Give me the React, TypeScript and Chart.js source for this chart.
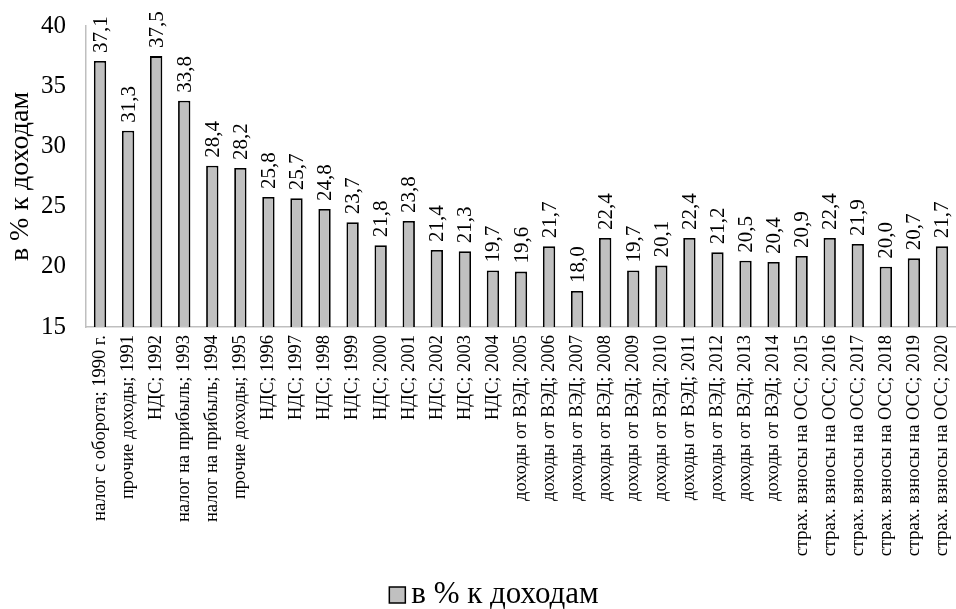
import React, { useEffect, useRef } from "react";
import { Chart, registerables } from "chart.js";

Chart.register(...registerables);

const categories: string[] = [
  "налог с оборота; 1990 г.",
  "прочие доходы; 1991",
  "НДС; 1992",
  "налог на прибыль; 1993",
  "налог на прибыль; 1994",
  "прочие доходы; 1995",
  "НДС; 1996",
  "НДС; 1997",
  "НДС; 1998",
  "НДС; 1999",
  "НДС; 2000",
  "НДС; 2001",
  "НДС; 2002",
  "НДС; 2003",
  "НДС; 2004",
  "доходы от ВЭД; 2005",
  "доходы от ВЭД; 2006",
  "доходы от ВЭД; 2007",
  "доходы от ВЭД; 2008",
  "доходы от ВЭД; 2009",
  "доходы от ВЭД; 2010",
  "доходы от ВЭД; 2011",
  "доходы от ВЭД; 2012",
  "доходы от ВЭД; 2013",
  "доходы от ВЭД; 2014",
  "страх. взносы на ОСС; 2015",
  "страх. взносы на ОСС; 2016",
  "страх. взносы на ОСС; 2017",
  "страх. взносы на ОСС; 2018",
  "страх. взносы на ОСС; 2019",
  "страх. взносы на ОСС; 2020",
];

const values: number[] = [
  37.1, 31.3, 37.5, 33.8, 28.4, 28.2, 25.8, 25.7, 24.8, 23.7, 21.8, 23.8, 21.4,
  21.3, 19.7, 19.6, 21.7, 18.0, 22.4, 19.7, 20.1, 22.4, 21.2, 20.5, 20.4, 20.9,
  22.4, 21.9, 20.0, 20.7, 21.7,
];

const seriesName = "в % к доходам";
const yMin = 15;
const yMax = 40;
const yStep = 5;

const FONT = "'Liberation Serif', 'Times New Roman', serif";
const BAR_FILL = "#c0c0c0";
const BAR_EDGE = "#000000";

const valueLabels = {
  id: "valueLabels",
  afterDatasetsDraw(chart: any) {
    const ctx = chart.ctx;
    const meta = chart.getDatasetMeta(0);
    ctx.save();
    ctx.fillStyle = "#000";
    ctx.font = `21px ${FONT}`;
    ctx.textAlign = "left";
    ctx.textBaseline = "middle";
    meta.data.forEach((bar: any, i: number) => {
      const v = chart.data.datasets[0].data[i] as number;
      ctx.save();
      ctx.translate(bar.x, bar.y - 8);
      ctx.rotate(-Math.PI / 2);
      ctx.fillText(v.toFixed(1).replace(".", ","), 0, 1);
      ctx.restore();
    });
    ctx.restore();
  },
};

const bottomLegend = {
  id: "bottomLegend",
  afterDraw(chart: any) {
    const ctx = chart.ctx;
    const label = chart.data.datasets[0].label as string;
    ctx.save();
    ctx.font = `31px ${FONT}`;
    const tw = ctx.measureText(label).width;
    const box = 16;
    const gap = 6;
    const total = box + gap + tw;
    const cx = chart.width / 2 + 16;
    const x0 = cx - total / 2;
    const baseY = chart.height - 6;
    ctx.fillStyle = BAR_FILL;
    ctx.strokeStyle = BAR_EDGE;
    ctx.lineWidth = 1.5;
    ctx.fillRect(x0, baseY - box, box, box);
    ctx.strokeRect(x0, baseY - box, box, box);
    ctx.fillStyle = "#000";
    ctx.textAlign = "left";
    ctx.textBaseline = "alphabetic";
    ctx.fillText(label, x0 + box + gap, baseY);
    ctx.restore();
  },
};

export default function App() {
  const ref = useRef<HTMLCanvasElement | null>(null);
  useEffect(() => {
    document.body.style.margin = "0";
    if (!ref.current) return;
    const chart = new Chart(ref.current, {
      type: "bar",
      data: {
        labels: categories,
        datasets: [
          {
            label: seriesName,
            data: values,
            backgroundColor: BAR_FILL,
            borderColor: BAR_EDGE,
            borderWidth: 1.8,
            barPercentage: 0.44,
            categoryPercentage: 1,
          },
        ],
      },
      options: {
        animation: false,
        responsive: false,
        devicePixelRatio: 1,
        layout: { padding: { top: 26, right: 0, left: 0, bottom: 52 } },
        plugins: {
          legend: { display: false },
          tooltip: { enabled: false },
        },
        scales: {
          x: {
            grid: { display: false, drawTicks: false },
            border: { display: true, color: "#bfbfbf", width: 1.5 },
            ticks: {
              autoSkip: false,
              maxRotation: 90,
              minRotation: 90,
              padding: 8,
              color: "#000",
              font: { family: FONT, size: 18.5 },
            },
            afterFit(scale: any) {
              scale.height = 230;
              scale.paddingLeft = 0;
              scale.paddingRight = 0;
            },
          },
          y: {
            min: yMin,
            max: yMax,
            grid: { display: false, drawTicks: false },
            border: { display: true, color: "#bfbfbf", width: 1.5 },
            ticks: {
              stepSize: yStep,
              padding: 20,
              color: "#000",
              font: { family: FONT, size: 25 },
            },
            title: {
              display: true,
              text: seriesName,
              color: "#000",
              font: { family: FONT, size: 28 },
              padding: { top: 4, bottom: 4 },
            },
            afterFit(scale: any) {
              scale.width = 86;
              scale.paddingTop = 0;
              scale.paddingBottom = 0;
            },
          },
        },
      },
      plugins: [valueLabels, bottomLegend],
    });
    return () => chart.destroy();
  }, []);
  return <canvas ref={ref} width={956} height={609} style={{ display: "block" }} />;
}
